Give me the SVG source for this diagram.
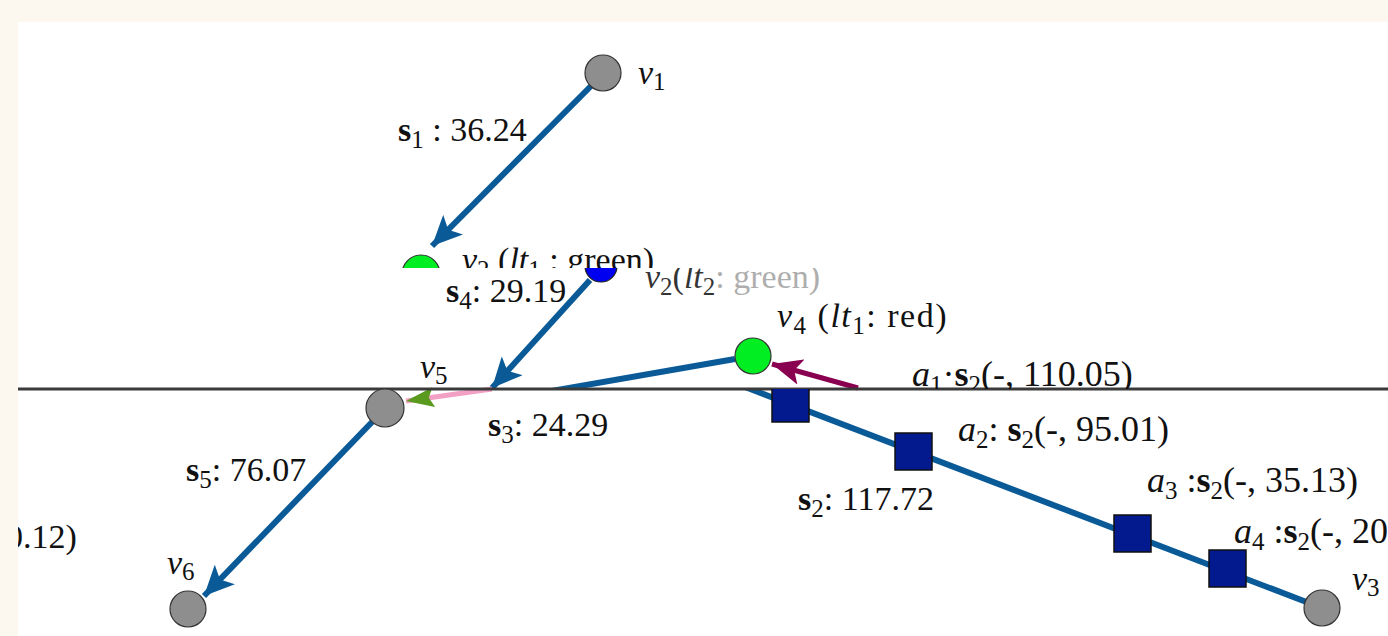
<svg xmlns="http://www.w3.org/2000/svg" width="1388" height="636" viewBox="0 0 1388 636">
<style>
.t{font-family:"Liberation Serif","Times New Roman",serif;font-size:34px;fill:#111}
.ta{font-size:36px}
.it{font-style:italic}
.b{font-weight:bold}
.sub{font-size:25px}
.edge{stroke:#0b5a98;stroke-width:6;fill:none}
.gray{fill:#8e8e8e;stroke:#333;stroke-width:1.2}
.green{fill:#00ee22;stroke:#333;stroke-width:1.2}
.sq{fill:#031a8f;stroke:#111;stroke-width:1.5}
</style>
<defs>
<marker id="ah" markerUnits="userSpaceOnUse" markerWidth="34" markerHeight="28" refX="30" refY="14" orient="auto"><path d="M0,0 L30,14 L0,28 L7,14 Z" fill="#0b5a98"/></marker>
<marker id="ahp" markerUnits="userSpaceOnUse" markerWidth="34" markerHeight="26" refX="30" refY="13" orient="auto"><path d="M0,0 L30,13 L0,26 L7,13 Z" fill="#8a0050"/></marker>
<marker id="ahg" markerUnits="userSpaceOnUse" markerWidth="30" markerHeight="20" refX="28" refY="10" orient="auto"><path d="M0,0 L28,10 L0,20 L5,10 Z" fill="#5a9a1e"/></marker>
<clipPath id="above268"><rect x="0" y="0" width="1388" height="268"/></clipPath>
<clipPath id="below268"><rect x="0" y="268" width="1388" height="400"/></clipPath>
<clipPath id="above389"><rect x="0" y="0" width="1388" height="389"/></clipPath>
<clipPath id="below389"><rect x="0" y="389" width="1388" height="300"/></clipPath>
<clipPath id="right18"><rect x="18" y="22" width="1370" height="614"/></clipPath>
</defs>
<rect x="0" y="0" width="1388" height="636" fill="#fcf8f0"/>
<rect x="18" y="22" width="1370" height="614" fill="#ffffff"/>

<g id="connectors">
<line class="edge" x1="592" y1="85" x2="432" y2="246" marker-end="url(#ah)"/>
<line class="edge" x1="590" y1="280" x2="492" y2="388" marker-end="url(#ah)"/>
<line class="edge" x1="735" y1="359" x2="500" y2="400" clip-path="url(#above389)"/>
<line x1="492" y1="389" x2="406" y2="401" stroke="#f2a0c4" stroke-width="5" marker-end="url(#ahg)"/>
<line class="edge" x1="373" y1="421" x2="204" y2="596" marker-end="url(#ah)"/>
<line class="edge" x1="740" y1="385" x2="1322" y2="608" clip-path="url(#below389)"/>
<line x1="858" y1="388" x2="772" y2="364" stroke="#8a0050" stroke-width="5" marker-end="url(#ahp)"/>
<line x1="18" y1="389" x2="1388" y2="389" stroke="#3a3a3a" stroke-width="3"/>
</g>

<g id="v1">
<circle class="gray" cx="603" cy="73" r="18"/>
<text class="t it" x="638" y="84">v<tspan class="sub" font-style="normal" dy="6">1</tspan></text>
</g>

<g id="v2top" clip-path="url(#above268)">
<circle class="green" cx="421" cy="274" r="19"/>
<text class="t" x="462" y="271"><tspan class="it">v</tspan><tspan class="sub" dy="7">2</tspan><tspan dy="-7"> (</tspan><tspan class="it">lt</tspan><tspan class="sub" dy="7">1</tspan><tspan dy="-7"> : green)</tspan></text>
</g>

<g id="v2" clip-path="url(#below268)">
<circle cx="601" cy="266" r="16" fill="#0000f0" stroke="#222" stroke-width="1.2"/>
<text class="t it" x="645" y="288" opacity="0.85">v<tspan class="sub" dy="7" font-style="normal">2</tspan><tspan dy="-7" font-style="normal">(</tspan>lt<tspan class="sub" dy="7" font-style="normal">2</tspan><tspan dy="-7" font-style="normal" opacity="0.4">: green)</tspan></text>
</g>

<g id="v4">
<circle class="green" cx="753" cy="356" r="18" stroke="#b03030"/>
<text class="t" x="777" y="327" letter-spacing="1.5"><tspan class="it">v</tspan><tspan class="sub" dy="7">4</tspan><tspan dy="-7"> (</tspan><tspan class="it">lt</tspan><tspan class="sub" dy="7">1</tspan><tspan dy="-7">: red)</tspan></text>
</g>

<g id="v5">
<circle class="gray" cx="385" cy="408" r="19"/>
<text class="t it" x="420" y="378">v<tspan class="sub" font-style="normal" dy="6">5</tspan></text>
</g>

<g id="v6">
<circle class="gray" cx="188" cy="609" r="18"/>
<text class="t it" x="167" y="574">v<tspan class="sub" font-style="normal" dy="6">6</tspan></text>
</g>

<g id="v3">
<circle class="gray" cx="1322" cy="608" r="18"/>
<text class="t it" x="1352" y="590">v<tspan class="sub" font-style="normal" dy="6">3</tspan></text>
</g>

<g id="a1">
<rect class="sq" x="772" y="385" width="37" height="37" clip-path="url(#below389)"/>
<text class="t ta" x="912" y="386" clip-path="url(#above389)"><tspan class="it">a</tspan><tspan class="sub" dy="7">1</tspan><tspan dy="-7">·</tspan><tspan class="b">s</tspan><tspan class="sub" dy="7">2</tspan><tspan dy="-7">(-, 110.05)</tspan></text>
</g>

<g id="a2">
<rect class="sq" x="895" y="433" width="37" height="37"/>
<text class="t ta" x="958" y="441"><tspan class="it">a</tspan><tspan class="sub" dy="7">2</tspan><tspan dy="-7">: </tspan><tspan class="b">s</tspan><tspan class="sub" dy="7">2</tspan><tspan dy="-7">(-, 95.01)</tspan></text>
</g>

<g id="a3">
<rect class="sq" x="1114" y="515" width="37" height="37"/>
<text class="t ta" x="1147" y="492"><tspan class="it">a</tspan><tspan class="sub" dy="7">3</tspan><tspan dy="-7"> :</tspan><tspan class="b">s</tspan><tspan class="sub" dy="7">2</tspan><tspan dy="-7">(-, 35.13)</tspan></text>
</g>

<g id="a4">
<rect class="sq" x="1209" y="550" width="37" height="37"/>
<text class="t ta" x="1234" y="543"><tspan class="it">a</tspan><tspan class="sub" dy="7">4</tspan><tspan dy="-7"> :</tspan><tspan class="b">s</tspan><tspan class="sub" dy="7">2</tspan><tspan dy="-7">(-, 20</tspan></text>
</g>

<g id="edge-labels">
<text class="t" x="398" y="141"><tspan class="b">s</tspan><tspan class="sub" dy="7">1</tspan><tspan dy="-7"> : 36.24</tspan></text>
<text class="t" x="446" y="302"><tspan class="b">s</tspan><tspan class="sub" dy="7">4</tspan><tspan dy="-7">: 29.19</tspan></text>
<text class="t" x="488" y="436"><tspan class="b">s</tspan><tspan class="sub" dy="7">3</tspan><tspan dy="-7">: 24.29</tspan></text>
<text class="t" x="186" y="481"><tspan class="b">s</tspan><tspan class="sub" dy="7">5</tspan><tspan dy="-7">: 76.07</tspan></text>
<text class="t" x="798" y="510"><tspan class="b">s</tspan><tspan class="sub" dy="7">2</tspan><tspan dy="-7">: 117.72</tspan></text>
<text class="t" x="6" y="548" clip-path="url(#right18)">0.12)</text>
</g>
</svg>
